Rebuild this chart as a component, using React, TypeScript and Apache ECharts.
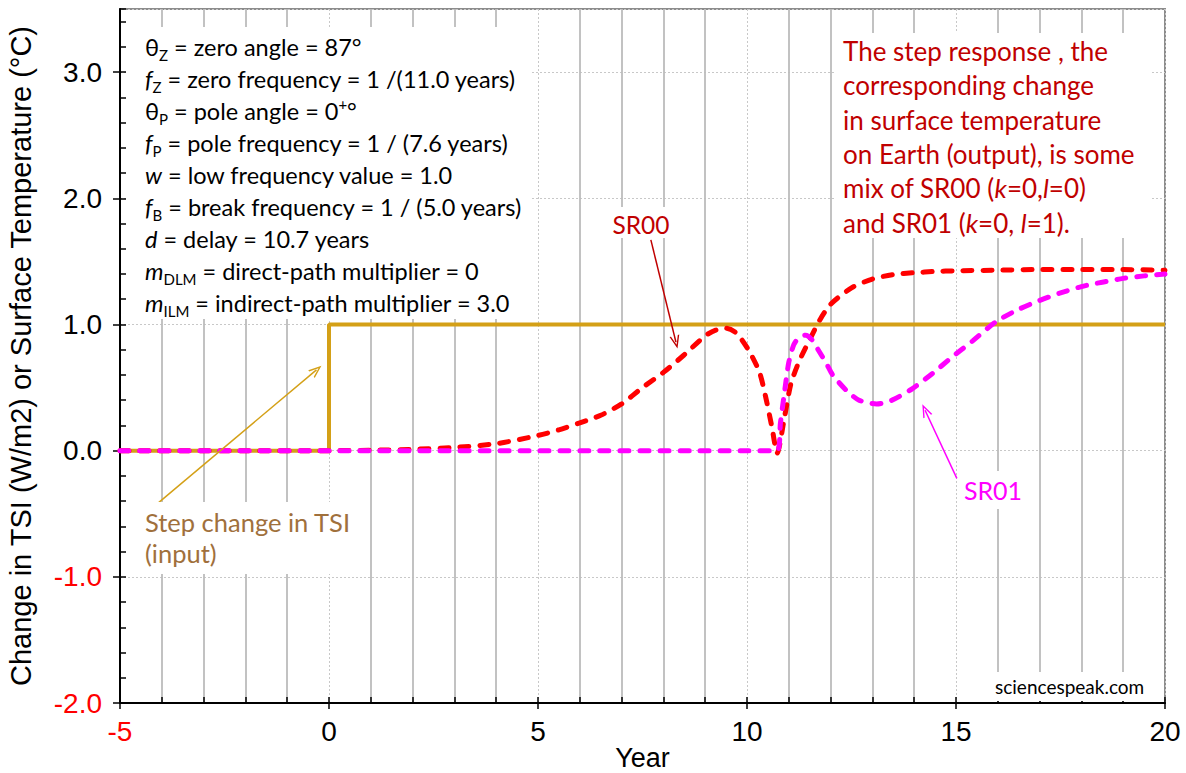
import React, { useEffect, useRef } from "react";
import * as echarts from "echarts";

// ---- data ----
const STEP_X = [-5, 0, 0, 20];
const STEP_Y = [0, 0, 1, 1];

const SR00_X = [-5, -2, 0, 1, 2, 3, 4, 5, 5.5, 6, 6.5, 7, 7.5, 8, 8.5, 9, 9.25, 9.5, 9.75, 10.05, 10.3, 10.45, 10.6, 10.72, 10.9, 11.05, 11.25, 11.5, 11.75, 12, 12.5, 13, 13.5, 14, 14.5, 15, 16, 17, 18, 19, 20];
const SR00_Y = [0, 0, 0, 0.003, 0.01, 0.025, 0.055, 0.12, 0.165, 0.22, 0.28, 0.37, 0.5, 0.62, 0.76, 0.91, 0.955, 0.97, 0.93, 0.79, 0.62, 0.42, 0.18, -0.02, 0.27, 0.53, 0.71, 0.88, 1.04, 1.16, 1.29, 1.36, 1.395, 1.41, 1.42, 1.425, 1.43, 1.435, 1.435, 1.435, 1.43];

const SR01_X = [-5, 0, 5, 10, 10.72, 10.8, 10.9, 11.0, 11.12, 11.25, 11.4, 11.55, 11.72, 11.9, 12.05, 12.37, 12.68, 13.1, 13.47, 13.95, 14.43, 14.9, 15.4, 15.95, 16.5, 17, 17.5, 18, 18.5, 19, 19.5, 20];
const SR01_Y = [0, 0, 0, 0, 0, 0.22, 0.47, 0.7, 0.84, 0.9, 0.915, 0.88, 0.79, 0.69, 0.6, 0.48, 0.4, 0.37, 0.4, 0.49, 0.61, 0.74, 0.87, 1.02, 1.12, 1.19, 1.25, 1.3, 1.335, 1.365, 1.385, 1.4];

// arrows: [fromX, fromY, toX, toY]
const STEP_ARROW = [-4.07, -0.41, -0.3, 0.64];
const SR00_ARROW = [7.7, 1.67, 8.3, 0.86];
const SR01_ARROW = [15.02, -0.22, 14.26, 0.32];

const X_MIN = -5, X_MAX = 20, Y_MIN = -2, Y_MAX = 3.5;

const PARAM_LINES = [
  "{n|θ}{s|Z}{n| = zero angle = 87°}",
  "{i|f}{s|Z}{n| = zero frequency = 1 /(11.0 years)}",
  "{n|θ}{s|P}{n| = pole angle = 0}{p|+}{n|°}",
  "{i|f}{s|P}{n| = pole frequency = 1 / (7.6 years)}",
  "{i|w}{n| = low frequency value = 1.0}",
  "{i|f}{s|B}{n| = break frequency = 1 / (5.0 years)}",
  "{i|d}{n| = delay = 10.7 years}",
  "{i|m}{s|DLM}{n| = direct-path multiplier = 0}",
  "{i|m}{s|ILM}{n| = indirect-path multiplier = 3.0}",
];

const NOTE_LINES = [
  "{n|The step response , the}",
  "{n|corresponding change}",
  "{n|in surface temperature}",
  "{n|on Earth (output), is some}",
  "{n|mix of SR00 (}{i|k}{n|=0,}{i|l}{n|=0)}",
  "{n|and SR01 (}{i|k}{n|=0, }{i|l}{n|=1).}",
];

const zip = (xs: number[], ys: number[]) => xs.map((x, i) => [x, ys[i]]);

const ARROW_SYMBOL = "path://M5,0 L10,13 L8.5,13 L5,3.8 L1.5,13 L0,13 Z";

const arrowLine = (a: number[], color: string) => ({
  silent: true,
  symbol: ["none", ARROW_SYMBOL],
  symbolSize: [10, 13],
  label: { show: false },
  emphasis: { disabled: true },
  lineStyle: { color, width: 1.5, type: "solid" },
  data: [[{ coord: [a[0], a[1]] }, { coord: [a[2], a[3]] }]],
});

const AX_FONT = "Liberation Sans, Arial, sans-serif";
const NOTE_FONT = "Lato, 'Open Sans', sans-serif";

export default function App() {
  const ref = useRef<HTMLDivElement>(null);
  useEffect(() => {
    if (!ref.current) return;
    const chart = echarts.init(ref.current, undefined, { renderer: "svg" });

    const PF = 23.5;
    const paramRich = {
      n: { fontFamily: NOTE_FONT, fontSize: PF, lineHeight: 30, fill: "#000" },
      i: { fontFamily: NOTE_FONT, fontSize: PF, lineHeight: 30, fontStyle: "italic", fill: "#000" },
      s: { fontFamily: NOTE_FONT, fontSize: 15, lineHeight: 15, verticalAlign: "bottom", fill: "#000" },
      p: { fontFamily: NOTE_FONT, fontSize: 15, lineHeight: 15, verticalAlign: "top", fill: "#000" },
    };
    const NF = 26;
    const noteRich = {
      n: { fontFamily: NOTE_FONT, fontSize: NF, lineHeight: 32, fill: "#C00000" },
      i: { fontFamily: NOTE_FONT, fontSize: NF, lineHeight: 32, fontStyle: "italic", fill: "#C00000" },
    };

    const graphics: any[] = [
      { type: "rect", z: 100, shape: { x: 128, y: 27, width: 404, height: 292 }, style: { fill: "#fff" } },
      { type: "rect", z: 100, shape: { x: 835, y: 33, width: 315, height: 205 }, style: { fill: "#fff" } },
      { type: "rect", z: 100, shape: { x: 140, y: 502, width: 218, height: 72 }, style: { fill: "#fff" } },
      { type: "rect", z: 100, shape: { x: 610, y: 207, width: 62, height: 31 }, style: { fill: "#fff" } },
      { type: "rect", z: 100, shape: { x: 958, y: 471, width: 68, height: 38 }, style: { fill: "#fff" } },
      { type: "rect", z: 100, shape: { x: 990, y: 672, width: 160, height: 29 }, style: { fill: "#fff" } },
    ];
    PARAM_LINES.forEach((t, i) => {
      graphics.push({
        type: "text", z: 101, x: 145, y: 47 + 32 * i,
        style: { text: t, rich: paramRich, align: "left", verticalAlign: "middle" },
      });
    });
    NOTE_LINES.forEach((t, i) => {
      graphics.push({
        type: "text", z: 101, x: 843, y: 51 + 34.3 * i,
        style: { text: t, rich: noteRich, align: "left", verticalAlign: "middle" },
      });
    });
    graphics.push(
      { type: "text", z: 101, x: 145, y: 522, style: { text: "Step change in TSI", fill: "#A0703C", font: `25.5px ${NOTE_FONT}`, align: "left", verticalAlign: "middle" } },
      { type: "text", z: 101, x: 145, y: 553, style: { text: "(input)", fill: "#A0703C", font: `25.5px ${NOTE_FONT}`, align: "left", verticalAlign: "middle" } },
      { type: "text", z: 101, x: 641, y: 224, style: { text: "SR00", fill: "#C00000", font: `24.5px ${NOTE_FONT}`, align: "center", verticalAlign: "middle" } },
      { type: "text", z: 101, x: 993, y: 490, style: { text: "SR01", fill: "#FF00FF", font: `25px ${NOTE_FONT}`, align: "center", verticalAlign: "middle" } },
      { type: "text", z: 101, x: 995, y: 686, style: { text: "sciencespeak.com", fill: "#000", font: `19px ${NOTE_FONT}`, align: "left", verticalAlign: "middle" } },
    );

    const labelRich = {
      r: { color: "#FF0000", fontFamily: AX_FONT, fontSize: 28 },
      b: { color: "#000", fontFamily: AX_FONT, fontSize: 28 },
    };

    const option: any = {
      animation: false,
      backgroundColor: "#fff",
      grid: {
        left: 120, right: 21, top: 9, bottom: 70,
        containLabel: false, outerBoundsMode: "none",
        show: true, borderColor: "#8c8c8c", borderWidth: 2, backgroundColor: "transparent",
      },
      xAxis: [
        {
          type: "value", min: X_MIN, max: X_MAX, interval: 5,
          name: "Year", nameLocation: "middle", nameGap: 41, nameMoveOverlap: false,
          nameTextStyle: { fontFamily: AX_FONT, fontSize: 27, lineHeight: 27, color: "#000" },
          axisLine: { onZero: false, lineStyle: { color: "#000", width: 2 } },
          axisTick: { show: true, inside: false, length: 6, lineStyle: { color: "#000", width: 1.5 } },
          axisLabel: {
            margin: 14,
            formatter: (v: number) => (v < 0 ? `{r|${v}}` : `{b|${v}}`),
            rich: labelRich,
          },
          splitLine: { show: true, lineStyle: { color: "#c8c8c8", width: 1, type: [2, 2] } },
          minorTick: { show: false, splitNumber: 5 },
          minorSplitLine: { show: true, lineStyle: { color: "#bcbcbc", width: 1.8 } },
        },
        {
          type: "value", min: X_MIN, max: X_MAX, interval: 1, position: "bottom",
          axisLine: { show: false, onZero: false },
          axisTick: { show: true, inside: true, length: 6, lineStyle: { color: "#000", width: 1.5 } },
          axisLabel: { show: false },
          splitLine: { show: false },
        },
      ],
      yAxis: [
        {
          type: "value", min: Y_MIN, max: Y_MAX, interval: 1,
          name: "Change in TSI (W/m2) or Surface Temperature (°C)",
          nameLocation: "middle", nameGap: 85, nameRotate: 90, nameMoveOverlap: false,
          nameTextStyle: { fontFamily: AX_FONT, fontSize: 29, color: "#000" },
          axisLine: { onZero: false, lineStyle: { color: "#000", width: 2 } },
          axisTick: { show: true, inside: false, length: 7, lineStyle: { color: "#000", width: 1.5 } },
          axisLabel: {
            margin: 18, showMaxLabel: false,
            formatter: (v: number) => (v < 0 ? `{r|${v.toFixed(1)}}` : `{b|${v.toFixed(1)}}`),
            rich: labelRich,
          },
          splitLine: { show: true, lineStyle: { color: "#c8c8c8", width: 1, type: [2, 2] } },
        },
        {
          type: "value", min: Y_MIN, max: Y_MAX, interval: 0.2, position: "left",
          axisLine: { show: false, onZero: false },
          axisTick: { show: true, inside: true, length: 6, lineStyle: { color: "#000", width: 1.5 } },
          axisLabel: { show: false },
          splitLine: { show: false },
        },
      ],
      series: [
        {
          name: "Step change in TSI", type: "line", xAxisIndex: 0, yAxisIndex: 0,
          data: zip(STEP_X, STEP_Y), showSymbol: false, symbol: "none",
          lineStyle: { color: "#D4A017", width: 4 }, z: 2,
          markLine: arrowLine(STEP_ARROW, "#D4A017"),
        },
        {
          name: "SR00", type: "line", xAxisIndex: 0, yAxisIndex: 0,
          data: zip(SR00_X, SR00_Y), showSymbol: false, symbol: "none", smooth: 0.25,
          lineStyle: { color: "#FF0000", width: 5, type: [9, 11], cap: "round" }, z: 3,
          markLine: arrowLine(SR00_ARROW, "#C00000"),
        },
        {
          name: "SR01", type: "line", xAxisIndex: 0, yAxisIndex: 0,
          data: zip(SR01_X, SR01_Y), showSymbol: false, symbol: "none", smooth: 0.25,
          lineStyle: { color: "#FF00FF", width: 5, type: [9, 11], cap: "round" }, z: 4,
          markLine: arrowLine(SR01_ARROW, "#FF00FF"),
        },
      ],
      graphic: graphics,
    };
    chart.setOption(option);
    return () => chart.dispose();
  }, []);
  return (
    <div
      ref={ref}
      style={{ position: "fixed", left: 0, top: 0, width: 1186, height: 773, background: "#fff" }}
    />
  );
}
